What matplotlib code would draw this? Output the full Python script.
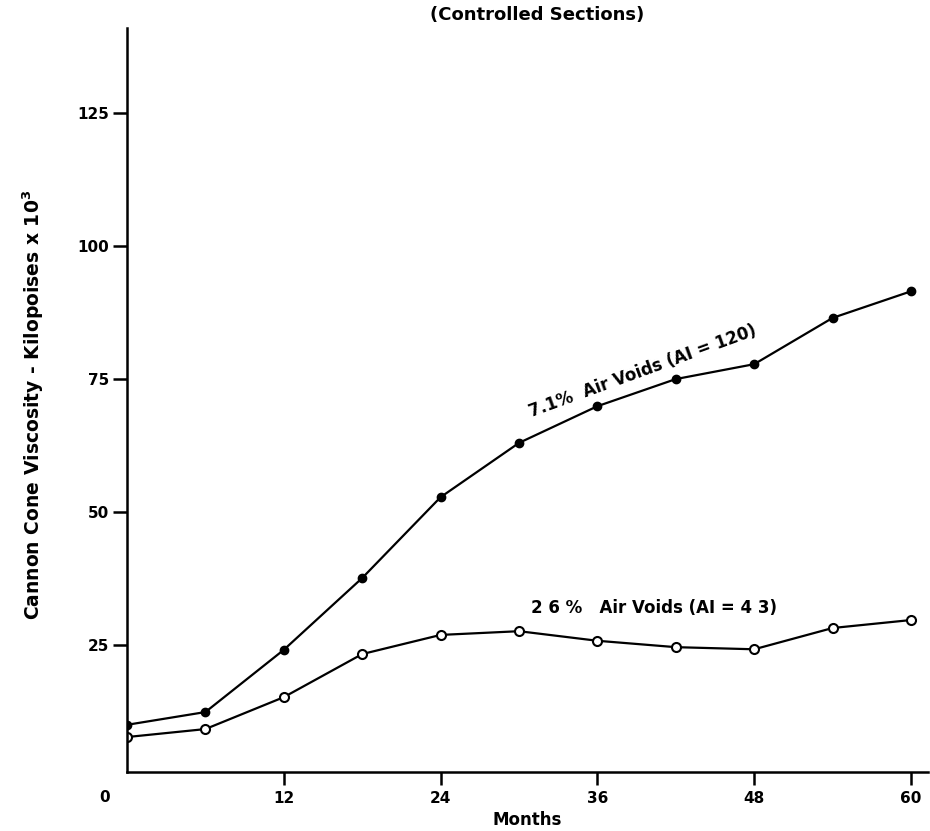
import matplotlib
matplotlib.use("Agg")
import matplotlib.pyplot as plt
import matplotlib.transforms as mtransforms

# viscosity readings, every 6 months
months = [0, 6, 12, 18, 24, 30, 36, 42, 48, 54, 60]
visc_71 = [10.0, 12.4, 24.1, 37.6, 52.8, 63.0, 69.9, 75.0, 77.8, 86.5, 91.5]
visc_26 = [7.7, 9.2, 15.2, 23.3, 26.9, 27.6, 25.8, 24.6, 24.2, 28.2, 29.7]

xticks = [12, 24, 36, 48, 60]
yticks = [25, 50, 75, 100, 125]

plt.rcParams['font.family'] = ['DejaVu Sans']
plt.rcParams['font.weight'] = 'bold'

W, H = 930, 831
fig = plt.figure(figsize=(W / 100, H / 100), dpi=100)
# axes box in pixels: left 127, right 928, top 28, bottom 772
ax = fig.add_axes([127 / W, (H - 772) / H, (928 - 127) / W, (772 - 28) / H])

ax.plot(months, visc_71, color="black", lw=1.6, marker="o", ms=6,
        mfc="black", mec="black")
ax.plot(months, visc_26, color="black", lw=1.6, marker="o", ms=6.5,
        mfc="white", mec="black", mew=1.5)

ax.set_xlim(0, 61.3)
ax.set_ylim(1.13, 141)

for s in ["top", "right"]:
    ax.spines[s].set_visible(False)
for s in ["left", "bottom"]:
    ax.spines[s].set_linewidth(1.8)

ax.set_xticks(xticks)
ax.set_xticklabels([str(t) for t in xticks], fontsize=11, fontweight="bold")
ax.set_yticks(yticks)
ax.set_yticklabels([str(t) for t in yticks], fontsize=11, fontweight="bold")
ax.tick_params(axis="x", direction="out", length=9, width=1.8, pad=5)
ax.tick_params(axis="y", direction="out", length=10, width=1.8, pad=3)

# origin label sits a little left of the corner
trans = mtransforms.blended_transform_factory(ax.transData, ax.transAxes)
ax.text(-1.7, -0.034, "0", transform=trans, ha="center", va="center",
        fontsize=11, fontweight="bold")

ax.set_xlabel("Months", fontsize=12, fontweight="bold", labelpad=3)
fig.text(33 / W, 1 - 405 / H,
         "Cannon Cone Viscosity - Kilopoises x 10$^{\\mathbf{3}}$",
         rotation=90, ha="center", va="center", fontsize=13.5,
         fontweight="bold")

fig.text(537 / W, 1 - 15 / H, "(Controlled Sections)", ha="center",
         va="center", fontsize=13, fontweight="bold")

ax.text(39.5, 76.5, "7.1%  Air Voids (AI = 120)", rotation=20,
        rotation_mode="anchor", ha="center", va="center", fontsize=12,
        fontweight="bold")
ax.text(40.3, 32.0, "2 6 %   Air Voids (AI = 4 3)", ha="center",
        va="center", fontsize=12, fontweight="bold")

fig.savefig("out.png", dpi=100)
